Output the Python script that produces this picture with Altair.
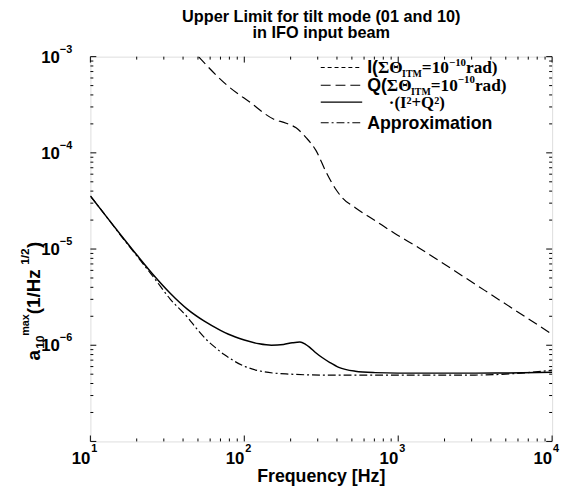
import altair as alt
import pandas as pd

# ---------------- data ----------------
q_freq = [50.4, 77.3, 108.4, 154.5, 187, 217, 252, 292, 338, 392, 434, 526, 706, 951, 1374, 1901, 4819, 10000]
q_val = [1.0e-3, 5.04e-4, 3.37e-4, 2.25e-4, 2.03e-4, 1.82e-4, 1.44e-4, 1.06e-4, 6.44e-5, 4.21e-5,
         3.40e-5, 2.69e-5, 1.98e-5, 1.45e-5, 1.02e-5, 7.31e-6, 2.78e-6, 1.30e-6]

total_freq = [10, 12.6, 16, 20, 26.2, 33, 42.8, 55, 70, 79, 100, 125, 150, 180, 205, 230, 250, 265,
              290, 322, 360, 411, 526, 708, 1000, 2000, 3162, 5000, 10000]
total_val = [3.56e-5, 2.21e-5, 1.36e-5, 8.71e-6, 5.18e-6, 3.47e-6, 2.36e-6, 1.78e-6, 1.43e-6, 1.30e-6,
             1.135e-6, 1.035e-6, 1.00e-6, 1.02e-6, 1.06e-6, 1.08e-6, 1.02e-6, 9.55e-7, 8.41e-7, 7.41e-7,
             6.61e-7, 5.89e-7, 5.37e-7, 5.19e-7, 5.13e-7, 5.13e-7, 5.13e-7, 5.15e-7, 5.25e-7]

approx_freq = [10, 12.6, 16, 20, 26.2, 33, 42.8, 50, 57.5, 65, 73.6, 85, 99, 133, 197, 316, 1000,
               3162, 6300, 10000]
approx_val = [3.56e-5, 2.21e-5, 1.34e-5, 8.51e-6, 4.90e-6, 3.02e-6, 1.95e-6, 1.43e-6, 1.12e-6, 9.44e-7,
              8.04e-7, 6.92e-7, 6.10e-7, 5.31e-7, 5.01e-7, 4.90e-7, 4.90e-7, 4.90e-7, 5.13e-7, 5.50e-7]

x_major = [10, 100, 1000, 10000]
x_major_exp = ["1", "2", "3", "4"]
y_major = [1e-3, 1e-4, 1e-5, 1e-6, 1e-7]
y_label_vals = [1e-3, 1e-4, 1e-5, 1e-6]
y_label_exp = ["\u22123", "\u22124", "\u22125", "\u22126"]
x_minor = [k * 10 ** d for d in (1, 2, 3) for k in range(2, 10)]
y_minor = [k * 10.0 ** d for d in (-7, -6, -5, -4) for k in range(2, 10)]

title_lines = ["Upper Limit for tilt mode (01 and 10)", "in IFO input beam"]
x_title = "Frequency [Hz]"

# ---------------- layout ----------------
W, H = 468, 390
L, T = 83.5, 46          # plot origin offset inside the chart (page margin adds 8)
OX, OY = L + 8, T + 8    # plot origin in page pixels

SANS = "Liberation Sans"
SERIF = "Liberation Serif"

xscale = alt.Scale(type="log", domain=[10, 10000], nice=False)
yscale = alt.Scale(type="log", domain=[1e-7, 1e-3], nice=False)

one = pd.DataFrame({"d": [0]})


def line_layer(fr, vals, dash, width):
    df = pd.DataFrame({"f": fr, "v": vals})
    kw = dict(color="black", strokeWidth=width, interpolate="monotone", clip=True)
    if dash:
        kw["strokeDash"] = dash
    return alt.Chart(df).mark_line(**kw).encode(
        x=alt.X("f:Q", scale=xscale, axis=None),
        y=alt.Y("v:Q", scale=yscale, axis=None),
    )


DASH_I = [4, 3]
DASH_Q = [10, 5]
DASH_A = [8, 3, 2, 3]

layers = []
layers.append(line_layer(q_freq, q_val, DASH_Q, 1.2))
layers.append(line_layer(approx_freq, approx_val, DASH_A, 1.2))
layers.append(line_layer(total_freq, total_val, None, 1.5))


# ticks (inward, on all four sides)
def xticks(vals, length):
    df = pd.DataFrame({"t": vals})
    b = alt.Chart(df).mark_rule(color="black", strokeWidth=1).encode(
        x=alt.X("t:Q", scale=xscale, axis=None), y=alt.value(H), y2=alt.value(H - length))
    t = alt.Chart(df).mark_rule(color="black", strokeWidth=1).encode(
        x=alt.X("t:Q", scale=xscale, axis=None), y=alt.value(0), y2=alt.value(length))
    return [b, t]


def yticks(vals, length):
    df = pd.DataFrame({"t": vals})
    l = alt.Chart(df).mark_rule(color="black", strokeWidth=1).encode(
        y=alt.Y("t:Q", scale=yscale, axis=None), x=alt.value(0), x2=alt.value(length))
    r = alt.Chart(df).mark_rule(color="black", strokeWidth=1).encode(
        y=alt.Y("t:Q", scale=yscale, axis=None), x=alt.value(W), x2=alt.value(W - length))
    return [l, r]


layers += xticks(x_major, 6) + xticks(x_minor, 3) + yticks(y_major, 6) + yticks(y_minor, 3)

# x tick labels: "10" + superscript exponent
xl = pd.DataFrame({"t": x_major, "e": x_major_exp})
layers.append(alt.Chart(xl).mark_text(text="10", font=SANS, fontWeight="bold", fontSize=17,
                                      align="right", baseline="alphabetic", dy=23, color="black").encode(
    x=alt.X("t:Q", scale=xscale, axis=None), y=alt.value(H)))
layers.append(alt.Chart(xl).mark_text(font=SANS, fontWeight="bold", fontSize=11,
                                      align="left", baseline="alphabetic", dx=1, dy=11, color="black").encode(
    x=alt.X("t:Q", scale=xscale, axis=None), y=alt.value(H), text="e:N"))

# y tick labels
yl = pd.DataFrame({"t": y_label_vals, "e": y_label_exp})
layers.append(alt.Chart(yl).mark_text(text="10", font=SANS, fontWeight="bold", fontSize=17,
                                      align="right", baseline="middle", dy=1, color="black").encode(
    y=alt.Y("t:Q", scale=yscale, axis=None), x=alt.value(-31)))
layers.append(alt.Chart(yl).mark_text(font=SANS, fontWeight="bold", fontSize=11,
                                      align="left", baseline="alphabetic", dy=-4, color="black").encode(
    y=alt.Y("t:Q", scale=yscale, axis=None), x=alt.value(-31), text="e:N"))


def txt(s, px, py, size, font=SANS, align="left", baseline="alphabetic", angle=None):
    kw = dict(text=s, font=font, fontWeight="bold", fontSize=size, align=align,
              baseline=baseline, color="black")
    if angle is not None:
        kw["angle"] = angle
    return alt.Chart(one).mark_text(**kw).encode(x=alt.value(px - OX), y=alt.value(py - OY))


# title
layers.append(txt(title_lines[0], OX + W / 2, 19, 16.5, align="center"))
layers.append(txt(title_lines[1], OX + W / 2, 35, 16.5, align="center"))

# x axis title
layers.append(txt(x_title, OX + W / 2, 485, 18, align="center"))

# y axis title (rotated, reading bottom to top)
ylab = [("a", 362, 40, 19), ("10", 350, 44, 12), ("max", 337, 29, 11),
        ("(1/Hz", 315, 40, 19), ("1/2", 265, 29, 12), (")", 248, 40, 19)]
for s, py, px, sz in ylab:
    layers.append(txt(s, px, py, sz, angle=270))

# ---------------- legend ----------------
SW = {"I": .389, "T": .667, "M": .944, "Σ": .62, "Θ": .778, "=": .57, "1": .5, "0": .5,
      "−": .57, "r": .444, "a": .5, "d": .556, ")": .333, "(": .333}
AW = {"I": .278, "(": .333, "Q": .778}


def width(s, size, table):
    return sum(table.get(c, .55) for c in s) * size


def legend_rich(lead, base_y, x0=372):
    segs = [(lead, SANS, 18, 0, AW), ("ΣΘ", SERIF, 17.5, 0, SW), ("ITM", SERIF, 10, 4, SW),
            ("=10", SERIF, 17.5, 0, SW), ("\u221210", SERIF, 11, -8, SW), ("rad)", SERIF, 17.5, 0, SW)]
    out = []
    x = x0
    for s, f, sz, off, tab in segs:
        out.append(txt(s, x, base_y + off, sz, font=f))
        x += width(s, sz, tab)
    return out


LX1, LX2 = 325, 367
leg_y = [65, 83, 100, 121]
for yy, dash in zip(leg_y, [DASH_I, DASH_Q, None, DASH_A]):
    kw = dict(color="black", strokeWidth=1.3 if dash is None else 1.2)
    if dash:
        kw["strokeDash"] = dash
    layers.append(alt.Chart(one).mark_rule(**kw).encode(
        x=alt.value(LX1 - OX), x2=alt.value(LX2 - OX), y=alt.value(yy - OY)))

layers += legend_rich("I(", 71)
layers += legend_rich("Q(", 89)
layers.append(txt("\u00b7(I\u00b2+Q\u00b2)", 394, 106, 17, font=SERIF))
layers.append(txt("Approximation", 372, 127, 18))

chart = alt.layer(*layers).properties(
    width=W, height=H,
    padding={"left": L, "top": T, "right": 9, "bottom": 52},
    autosize=alt.AutoSizeParams(type="none"),
).configure_view(stroke="black", strokeWidth=1.5).configure(background="white")

chart.save("out.html", embed_options={"renderer": "svg", "actions": False})
